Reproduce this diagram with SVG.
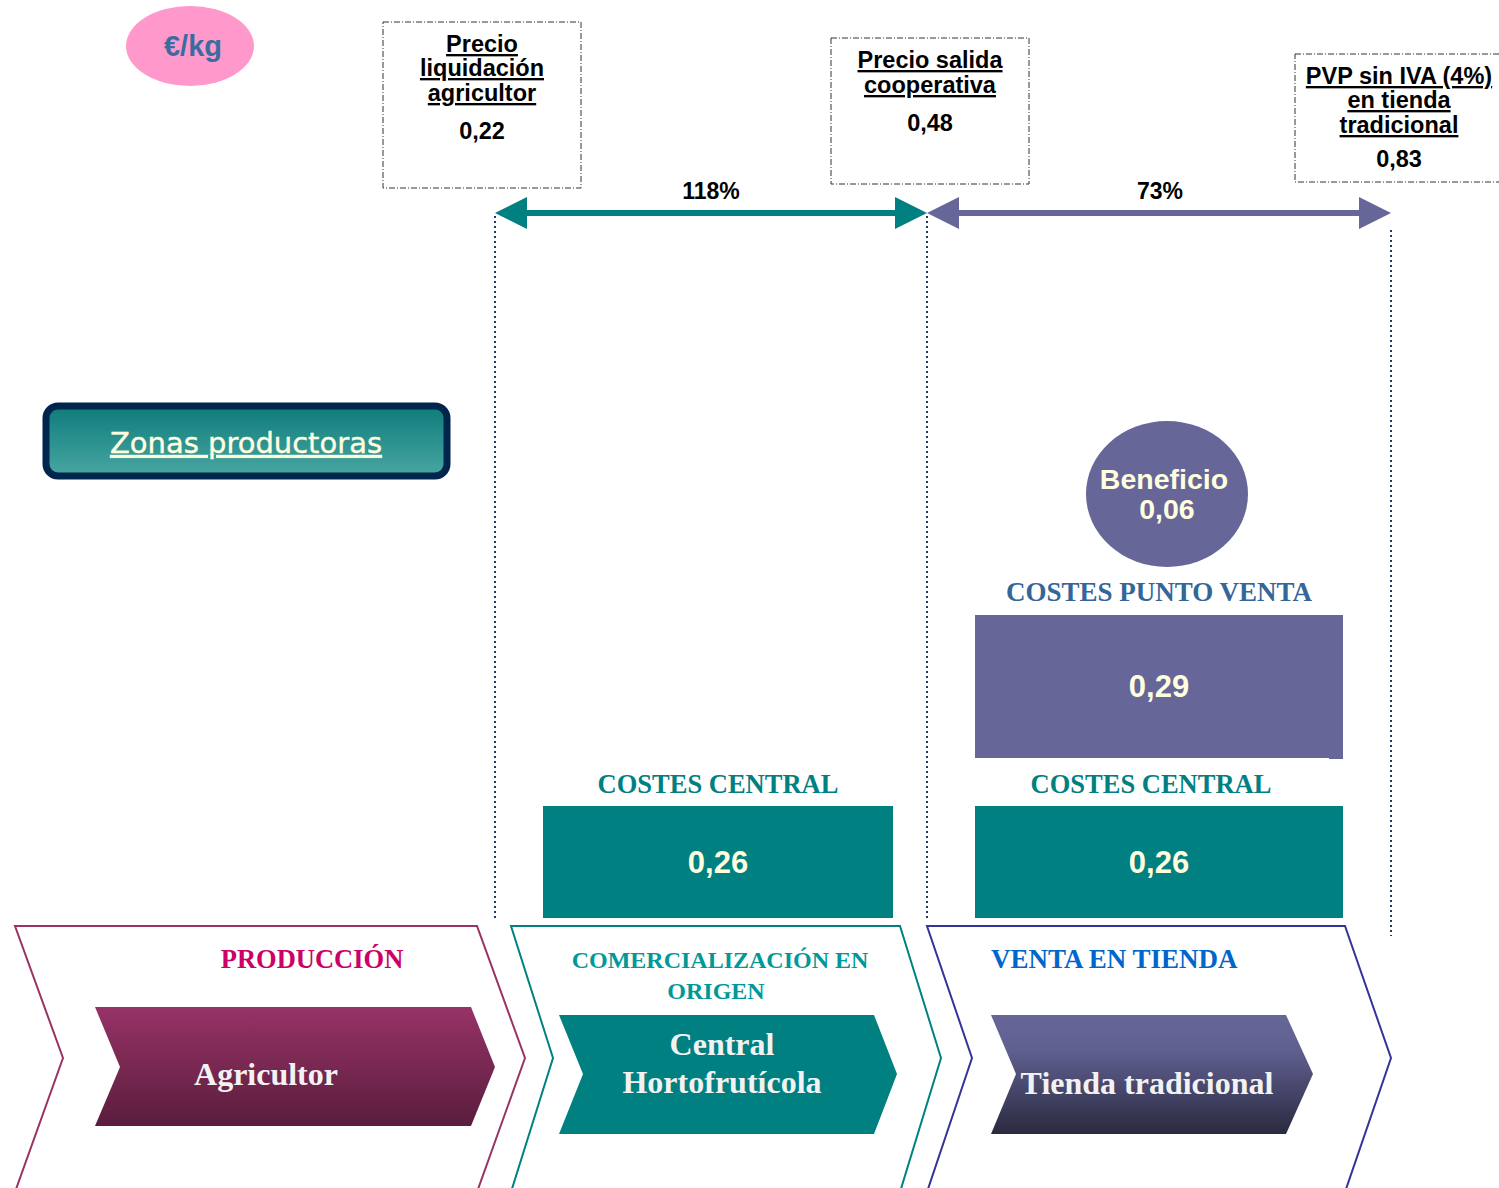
<svg xmlns="http://www.w3.org/2000/svg" width="1499" height="1188" viewBox="0 0 1499 1188">
<defs>
<style>
.hd{font-family:"Liberation Sans",Arial,sans-serif;font-weight:bold;font-size:23.5px;fill:#000;text-anchor:middle}
.ul{text-decoration:underline}
.box{fill:#fff;stroke:#333;stroke-width:1;stroke-dasharray:6,2,1,2}
.pct{font-family:"Liberation Sans",Arial,sans-serif;font-weight:bold;font-size:23px;fill:#000;text-anchor:middle}
.dot{stroke:#1f3864;stroke-width:2;stroke-dasharray:2,3;fill:none}
.sf{font-family:"Liberation Serif","Times New Roman",serif;font-weight:bold;text-anchor:middle}
.val{font-family:"Liberation Sans",Arial,sans-serif;font-weight:bold;font-size:31px;fill:#ffffe0;text-anchor:middle}
.chev{fill:#fff;stroke-width:2}
</style>
<linearGradient id="gZona" x1="0" y1="0" x2="0" y2="1">
<stop offset="0" stop-color="#0e7c7b"/><stop offset="1" stop-color="#48a6a2"/>
</linearGradient>
<linearGradient id="gAgr" x1="0" y1="0" x2="0" y2="1">
<stop offset="0" stop-color="#963366"/><stop offset="1" stop-color="#5a1d3d"/>
</linearGradient>
<linearGradient id="gTie" x1="0" y1="0" x2="0" y2="1">
<stop offset="0" stop-color="#666699"/><stop offset="0.3" stop-color="#5f5f90"/><stop offset="1" stop-color="#2a2a40"/>
</linearGradient>
</defs>
<rect width="1499" height="1188" fill="#fff"/>

<g id="unit">
<ellipse cx="190" cy="46" rx="64" ry="40" fill="#ff99cc"/>
<text x="193" y="56" font-family="Liberation Sans,Arial,sans-serif" font-weight="bold" font-size="29" fill="#3a6c9f" text-anchor="middle">€/kg</text>
</g>

<g id="precio-agricultor">
<rect class="box" x="383" y="22" width="198" height="166"/>
<text class="hd ul" x="482" y="52">Precio</text>
<text class="hd ul" x="482" y="76">liquidación</text>
<text class="hd ul" x="482" y="101">agricultor</text>
<text class="hd" x="482" y="139">0,22</text>
</g>

<g id="precio-cooperativa">
<rect class="box" x="831" y="38" width="198" height="146"/>
<text class="hd ul" x="930" y="68">Precio salida</text>
<text class="hd ul" x="930" y="93">cooperativa</text>
<text class="hd" x="930" y="131">0,48</text>
</g>

<g id="pvp">
<rect class="box" x="1295" y="54" width="210" height="128"/>
<text class="hd ul" x="1399" y="84">PVP sin IVA (4%)</text>
<text class="hd ul" x="1399" y="108">en tienda</text>
<text class="hd ul" x="1399" y="133">tradicional</text>
<text class="hd" x="1399" y="167">0,83</text>
</g>

<g id="connectors">
<line class="dot" x1="495" y1="216" x2="495" y2="918"/>
<line class="dot" x1="927" y1="216" x2="927" y2="918"/>
<line class="dot" x1="1391" y1="230" x2="1391" y2="936"/>
<line x1="520" y1="213" x2="902" y2="213" stroke="#008080" stroke-width="6"/>
<polygon points="495,213 527,197 527,229" fill="#008080"/>
<polygon points="927,213 895,197 895,229" fill="#008080"/>
<line x1="952" y1="213" x2="1366" y2="213" stroke="#666699" stroke-width="6"/>
<polygon points="927,213 959,197 959,229" fill="#666699"/>
<polygon points="1391,213 1359,197 1359,229" fill="#666699"/>
<text class="pct" x="711" y="199">118%</text>
<text class="pct" x="1160" y="199">73%</text>
</g>

<g id="zonas">
<rect x="46" y="406" width="401" height="70" rx="12" fill="url(#gZona)" stroke="#00264d" stroke-width="7"/>
<text x="246" y="453" font-family="DejaVu Sans,Verdana,sans-serif" font-size="29" fill="#ffffe0" stroke="#ffffe0" stroke-width="0.4" text-anchor="middle" text-decoration="underline" textLength="272" lengthAdjust="spacingAndGlyphs">Zonas productoras</text>
</g>

<g id="beneficio">
<ellipse cx="1167" cy="494" rx="81" ry="73" fill="#666699"/>
<text class="val" x="1164" y="489" style="font-size:28.5px">Beneficio</text>
<text class="val" x="1167" y="519" style="font-size:28.5px">0,06</text>
</g>

<g id="costes-punto-venta">
<text class="sf" x="1159" y="601" style="font-size:27px;fill:#336699">COSTES PUNTO VENTA</text>
<rect x="975" y="615" width="368" height="143" fill="#666699"/>
<rect x="1329" y="755" width="14" height="4" fill="#666699"/>
<text class="val" x="1159" y="697">0,29</text>
</g>

<g id="costes-central-1">
<text class="sf" x="718" y="793" style="font-size:26.5px;fill:#008080">COSTES CENTRAL</text>
<rect x="543" y="806" width="350" height="112" fill="#008080"/>
<text class="val" x="718" y="873">0,26</text>
</g>

<g id="costes-central-2">
<text class="sf" x="1151" y="793" style="font-size:26.5px;fill:#008080">COSTES CENTRAL</text>
<rect x="975" y="806" width="368" height="112" fill="#008080"/>
<text class="val" x="1159" y="873">0,26</text>
</g>

<g id="produccion">
<polygon class="chev" stroke="#993366" points="15,926 477,926 525,1058 477,1192 15,1192 63,1058"/>
<text class="sf" x="312" y="968" style="font-size:26.5px;fill:#cc0066">PRODUCCIÓN</text>
<polygon points="95,1007 471,1007 495,1067 471,1126 95,1126 120,1067" fill="url(#gAgr)"/>
<text class="sf" x="266" y="1085" style="font-size:32px;fill:#f2f2f2">Agricultor</text>
</g>

<g id="comercializacion">
<polygon class="chev" stroke="#008080" points="511,926 900,926 941,1058 900,1192 511,1192 553,1058"/>
<text class="sf" x="720" y="968" style="font-size:24px;fill:#009999">COMERCIALIZACIÓN EN</text>
<text class="sf" x="716" y="999" style="font-size:24px;fill:#009999">ORIGEN</text>
<polygon points="559,1015 874,1015 897,1074 874,1134 559,1134 583,1074" fill="#008080"/>
<text class="sf" x="722" y="1055" style="font-size:32px;fill:#f2f2f2">Central</text>
<text class="sf" x="722" y="1093" style="font-size:32px;fill:#f2f2f2">Hortofrutícola</text>
</g>

<g id="venta">
<polygon class="chev" stroke="#333399" points="927,926 1345,926 1391,1058 1345,1192 927,1192 972,1058"/>
<text class="sf" x="991" y="968" style="font-size:27px;fill:#0066cc;text-anchor:start">VENTA EN TIENDA</text>
<polygon points="991,1015 1286,1015 1313,1074 1286,1134 991,1134 1016,1074" fill="url(#gTie)"/>
<text class="sf" x="1147" y="1094" style="font-size:32px;fill:#f2f2f2">Tienda tradicional</text>
</g>
</svg>
